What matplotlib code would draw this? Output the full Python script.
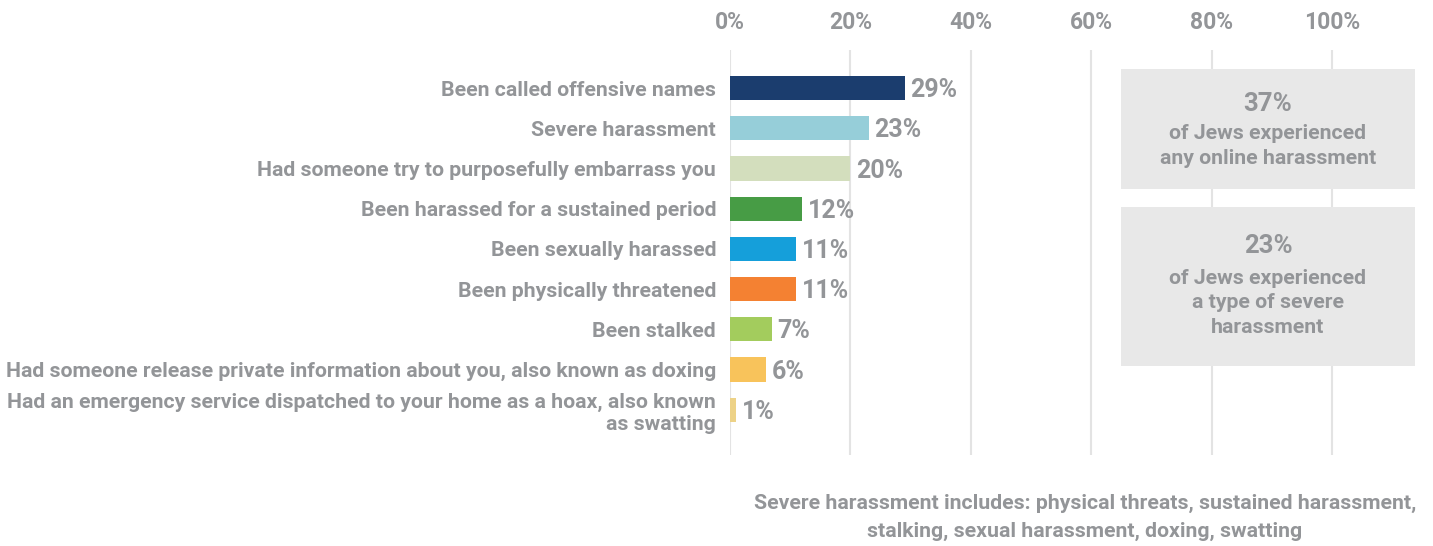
import matplotlib.pyplot as plt
from matplotlib.patches import Rectangle

plt.rcParams['font.family'] = ['Roboto', 'DejaVu Sans']

categories = [
    'Been called offensive names',
    'Severe harassment',
    'Had someone try to purposefully embarrass you',
    'Been harassed for a sustained period',
    'Been sexually harassed',
    'Been physically threatened',
    'Been stalked',
    'Had someone release private information about you, also known as doxing',
    'Had an emergency service dispatched to your home as a hoax, also known\nas swatting',
]
values = [0.29, 0.23, 0.20, 0.12, 0.11, 0.11, 0.07, 0.06, 0.01]
value_labels = ['29%', '23%', '20%', '12%', '11%', '11%', '7%', '6%', '1%']
colors = ['#1B3D6E', '#96CED9', '#D3DEBD', '#479C45', '#159FDA',
          '#F48132', '#A3CC5D', '#F8C35B', '#EDD287']
ticks = [0, 0.2, 0.4, 0.6, 0.8, 1.0]
tick_labels = ['0%', '20%', '40%', '60%', '80%', '100%']

gray = '#939598'

fig = plt.figure(figsize=(14.33, 5.46), dpi=100)
ax = fig.add_axes([0.5094, 0.167, 0.4780, 0.741])

y = range(len(categories))
ax.barh(y, values, height=0.6, color=colors, zorder=3)
for i, (v, lab) in enumerate(zip(values, value_labels)):
    ax.annotate(lab, (v, i), xytext=(4, -1.5), textcoords='offset points',
                ha='left', va='center', fontsize=18, fontweight='bold',
                color=gray, zorder=4)

ax.set_xlim(0, 1.137)
ax.set_ylim(9.12, -0.94)
ax.set_xticks(ticks)
ax.set_xticklabels(tick_labels)
ax.xaxis.tick_top()
ax.tick_params(axis='x', length=0, pad=12, labelsize=16.5, labelcolor=gray)
for t in ax.get_xticklabels():
    t.set_fontweight('bold')
ax.set_yticks(list(y))
ax.set_yticklabels(categories, fontsize=15.3, fontweight='bold', color=gray,
                   linespacing=1.2)
ax.tick_params(axis='y', length=0, pad=10)
ax.grid(axis='x', color='#E3E3E3', linewidth=1.5, zorder=0)
for s in ax.spines.values():
    s.set_visible(False)

# summary boxes
box_x0, box_x1 = 0.649, 1.137
ax.add_patch(Rectangle((box_x0, -0.48), box_x1 - box_x0, 2.98,
                       facecolor='#E8E8E8', edgecolor='none', zorder=2))
ax.add_patch(Rectangle((box_x0, 2.97), box_x1 - box_x0, 3.93,
                       facecolor='#E8E8E8', edgecolor='none', zorder=2))
cx = (box_x0 + box_x1) / 2
ax.text(cx, 0.4, '37%', ha='center', va='center', fontsize=18.5,
        fontweight='bold', color=gray, zorder=3)
ax.text(cx, 1.44, 'of Jews experienced\nany online harassment', ha='center',
        va='center', fontsize=15.3, fontweight='bold', color=gray,
        linespacing=1.36, zorder=3)
ax.text(cx, 3.93, '23%', ha='center', va='center', fontsize=18.5,
        fontweight='bold', color=gray, zorder=3)
ax.text(cx, 5.34, 'of Jews experienced\na type of severe\nharassment',
        ha='center', va='center', fontsize=15.3, fontweight='bold',
        color=gray, linespacing=1.36, zorder=3)

fig.text(0.757, 0.052, 'Severe harassment includes: physical threats, sustained harassment,\n'
         'stalking, sexual harassment, doxing, swatting', ha='center',
         va='center', fontsize=15.3, fontweight='bold', color=gray,
         linespacing=1.58)

fig.savefig('out.png', dpi=100)
